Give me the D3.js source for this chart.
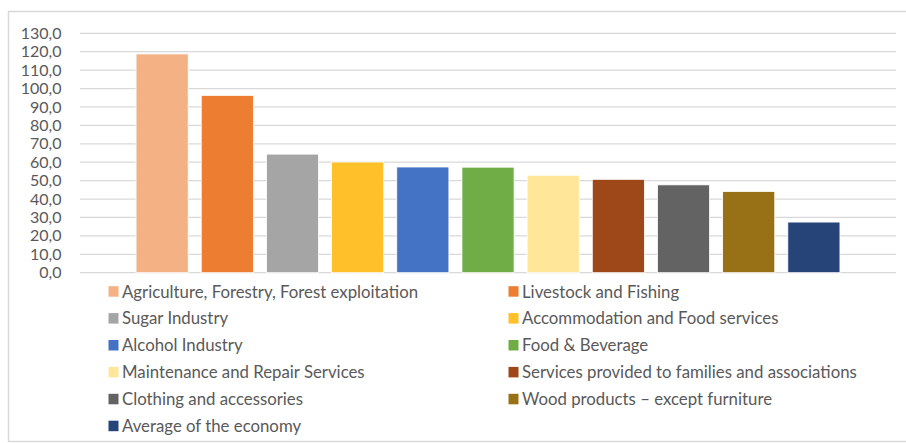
<!DOCTYPE html>
<html>
<head>
<meta charset="utf-8">
<script src="https://cdn.jsdelivr.net/npm/d3@7"></script>
<style>
  body { margin: 0; background: #fff; }
  text { font-family: Lato, "Open Sans", sans-serif; fill: #595959; }
</style>
</head>
<body>
<div id="chart"></div>
<script>
// categories (one bar each)
const sectors = [
  "Agriculture, Forestry, Forest exploitation",
  "Livestock and Fishing",
  "Sugar Industry",
  "Accommodation and Food services",
  "Alcohol Industry",
  "Food & Beverage",
  "Maintenance and Repair Services",
  "Services provided to families and associations",
  "Clothing and accessories",
  "Wood products \u2013 except furniture",
  "Average of the economy"
];
const values = [118.8, 96.3, 64.4, 60.1, 57.4, 57.3, 52.9, 50.7, 47.7, 44.1, 27.5];
const colors = ["#f4b183", "#ed7d31", "#a5a5a5", "#ffc02a", "#4472c4", "#70ad47",
                "#ffe699", "#9e4819", "#636363", "#987016", "#264478"];
const yTicks = d3.range(0, 131, 10);

const W = 906, H = 443;
let svg = d3.select('#chart').append('svg')
    .attr("width", W)
    .attr("height", H)

// cadre gris du graphique
svg.append('rect')
    .attr("x", 8.5).attr("y", 11.5)
    .attr("width", 920).attr("height", 430)
    .attr("fill", "none")
    .attr("stroke", "#d9d9d9")
    .attr("stroke-width", 1.5)

let y = d3.scaleLinear().domain([0, 130]).range([272.7, 33.3]);
let x = d3.scaleBand().domain(sectors).range([80, 896])
    .paddingInner(0.2).paddingOuter(0.86);

// grille
svg.append('g').selectAll('line')
    .data(yTicks)
    .enter().append('line')
    .attr("x1", 80).attr("x2", 896)
    .attr("y1", d => y(d)).attr("y2", d => y(d))
    .attr("stroke", "#d9d9d9")
    .attr("stroke-width", 1.3)

// axe y
let yAxis = d3.axisLeft(y).tickValues(yTicks)
    .tickFormat(d => d3.format(".1f")(d).replace(".", ","))
    .tickSize(0).tickPadding(0);
let gy = svg.append('g').attr("transform", "translate(61.5,0)").call(yAxis);
gy.select('.domain').remove();
gy.selectAll('text')
    .style("font-size", "16px")
    .attr("fill", "#595959")

// barres
svg.append('g').selectAll('rect')
    .data(sectors)
    .enter().append('rect')
    .attr("x", d => x(d))
    .attr("width", x.bandwidth())
    .attr("y", (d, i) => y(values[i]))
    .attr("height", (d, i) => y(0) - y(values[i]))
    .attr("fill", (d, i) => colors[i])
    .attr("stroke", "#fff")
    .attr("stroke-width", 0.8)

// légende sur deux colonnes
let legend = svg.append('g').selectAll('g')
    .data(sectors)
    .enter().append('g')
    .attr("transform", (d, i) => {
        let col = i % 2, row = Math.floor(i / 2);
        return "translate(" + (col ? 508.5 : 108.5) + "," + (291.7 + row * 26.9) + ")";
    })

legend.append('rect')
    .attr("x", 0).attr("y", -5.5)
    .attr("width", 10).attr("height", 10.5)
    .attr("fill", (d, i) => colors[i])

legend.append('text')
    .attr("x", 13.5).attr("y", 0)
    .attr("dy", "0.35em")
    .style("font-size", "16.8px")
    .text(d => d)
</script>
</body>
</html>
